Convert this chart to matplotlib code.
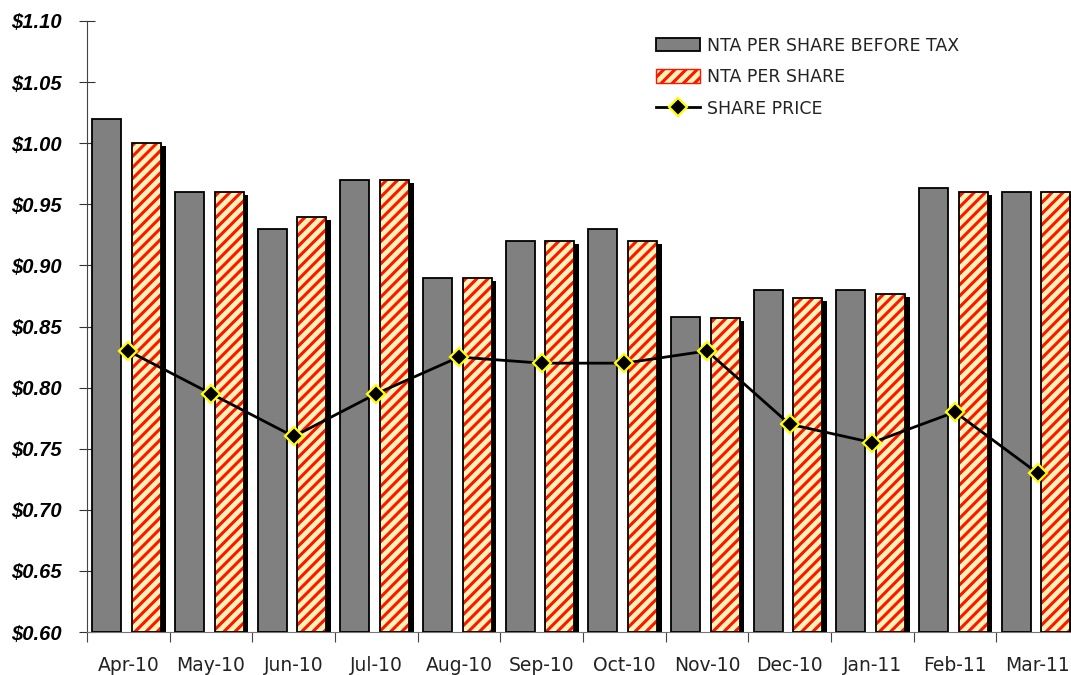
import matplotlib
matplotlib.use("Agg")
import matplotlib.pyplot as plt
from matplotlib.patches import Patch
from matplotlib.lines import Line2D
import numpy as np

months = ["Apr-10", "May-10", "Jun-10", "Jul-10", "Aug-10", "Sep-10",
          "Oct-10", "Nov-10", "Dec-10", "Jan-11", "Feb-11", "Mar-11"]
nta_before_tax = [1.02, 0.96, 0.93, 0.97, 0.89, 0.92, 0.93, 0.858, 0.88, 0.88, 0.963, 0.96]
nta = [1.00, 0.96, 0.94, 0.97, 0.89, 0.92, 0.92, 0.857, 0.873, 0.877, 0.96, 0.96]
share_price = [0.83, 0.795, 0.76, 0.795, 0.825, 0.82, 0.82, 0.83, 0.77, 0.755, 0.78, 0.73]
yticks = [0.60, 0.65, 0.70, 0.75, 0.80, 0.85, 0.90, 0.95, 1.00, 1.05, 1.10]

plt.rcParams["hatch.linewidth"] = 2.2
base = 0.60
red = "#FF1400"
cream = "#FFF3B8"

fig = plt.figure(figsize=(10.71, 6.75), dpi=100)
# axes runs a little past the right edge, as in the source image
ax = fig.add_axes([87 / 1071, 43 / 675, 992 / 1071, 611 / 675])

x = np.arange(len(months))
w = 0.35
xg = x - 0.26
xr = x + 0.22
h_g = np.array(nta_before_tax) - base
h_r = np.array(nta) - base

ax.bar(xg, h_g, w, bottom=base, color="#808080", edgecolor="black",
       linewidth=1.3, zorder=3)
# drop shadow behind hatched bars
ax.bar(xr + 0.055, h_r - 0.0025, w, bottom=base, color="black", linewidth=0, zorder=2)
ax.bar(xr, h_r, w, bottom=base, color=cream, edgecolor=red,
       linewidth=0, hatch="///", zorder=3)
ax.bar(xr, h_r, w, bottom=base, fill=False, edgecolor="black", linewidth=1.3, zorder=4)

ax.plot(x, share_price, color="black", linewidth=2.0, marker="D", markersize=9,
        markerfacecolor="black", markeredgecolor="#FFFF00", markeredgewidth=1.6,
        zorder=5)

ax.set_xlim(-0.5, 11.5)
ax.set_ylim(0.60, 1.10)
ax.set_yticks(yticks)
ax.set_yticklabels(["$%.2f" % v for v in yticks], fontfamily="Liberation Sans",
                   fontweight="bold", fontstyle="italic", fontsize=14.5)
ax.set_xticks(np.arange(len(months) + 1) - 0.5)
ax.set_xticklabels([""] * (len(months) + 1))
ax.set_xticks(x, minor=True)
ax.set_xticklabels(months, minor=True, fontfamily="DejaVu Sans", fontsize=13.5,
                   color="#222222")
ax.tick_params(axis="x", which="minor", length=0, pad=17)
ax.tick_params(axis="x", which="major", direction="out", length=7, color="#444444")
ax.tick_params(axis="y", direction="inout", length=12, pad=12, color="#333333")

for s in ["top", "right"]:
    ax.spines[s].set_visible(False)
ax.spines["left"].set_color("#444444")
ax.spines["bottom"].set_color("#777777")

handles = [
    Patch(facecolor="#808080", edgecolor="black", linewidth=1.3),
    Patch(facecolor=cream, edgecolor=red, hatch="///"),
    Line2D([], [], color="black", linewidth=2.0, marker="D", markersize=9,
           markerfacecolor="black", markeredgecolor="#FFFF00", markeredgewidth=1.6),
]
labels = ["NTA PER SHARE BEFORE TAX", "NTA PER SHARE", "SHARE PRICE"]
leg = ax.legend(handles, labels, loc="upper left", bbox_to_anchor=(0.558, 1.0),
                frameon=False, fontsize=12.5, handlelength=2.5, handleheight=0.8,
                handletextpad=0.45, labelspacing=0.78)
for t in leg.get_texts():
    t.set_color("#222222")

fig.savefig("out.png", dpi=100)
